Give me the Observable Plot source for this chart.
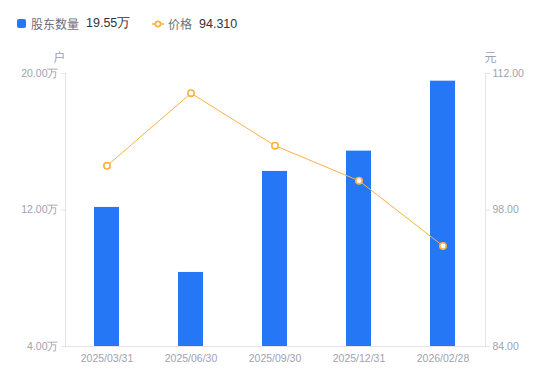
<!DOCTYPE html>
<html><head><meta charset="utf-8">
<script src="https://cdn.jsdelivr.net/npm/d3@7"></script>
<script src="https://cdn.jsdelivr.net/npm/@observablehq/plot@0.6"></script>
<style>
body{margin:0;background:#fff;font-family:"Noto Sans CJK SC","Liberation Sans",sans-serif;}
#legend{height:44px;position:relative;font-size:12px;}
.item{position:absolute;top:15px;display:flex;align-items:center;white-space:nowrap;}
.lab{color:#6b6f7b;margin-right:7px;}
.val{color:#333;font-family:"Liberation Sans",Arial,sans-serif;font-size:12.5px;}
svg{display:block;}
</style></head>
<body>
<div id="legend">
  <div class="item" style="left:17px"><span style="display:inline-block;width:9px;height:9px;background:#2677f6;border-radius:2px;margin-right:5px"></span><span class="lab">股东数量</span><span class="val" id="v1"></span></div>
  <div class="item" style="left:152px"><svg width="12" height="10" style="margin-right:4px"><line x1="0" y1="5" x2="12" y2="5" stroke="#f9b240" stroke-width="1.5"/><circle cx="6" cy="5" r="2.6" fill="#fff" stroke="#f9b240" stroke-width="1.6"/></svg><span class="lab">价格</span><span class="val" id="v2"></span></div>
</div>
<div id="chart"></div>
<script>
const dates = ["2025/03/31","2025/06/30","2025/09/30","2025/12/31","2026/02/28"];
const holders = [12.15, 8.34, 14.26, 15.45, 19.55]; // 万户
const prices = [102.53, 109.98, 104.6, 101.0, 94.31]; // 元
const leftTicks = [4, 12, 20];
const rightTicks = [84, 98, 112];

document.getElementById("v1").textContent = "19.55万";
document.getElementById("v2").textContent = "94.310";

// map right (price) domain onto left scale
const pToY = p => 4 + (p - 84) * 16 / 28;
const yToP = y => 84 + (y - 4) * 28 / 16;

const barData = dates.map((d,i)=>({d, v: holders[i]}));
const lineData = dates.map((d,i)=>({d, p: prices[i], y: pToY(prices[i])}));

const gray = "#9ea2b0";
const axisLine = "#e3e4ea";

const chart = Plot.plot({
  width: 550,
  height: 337,
  marginLeft: 65,
  marginRight: 65,
  marginTop: 29,
  marginBottom: 35,
  style: {fontFamily: "'Liberation Sans', Arial, sans-serif", fontSize: "10.5px", color: gray, background: "#fff"},
  x: {type: "band", domain: dates, paddingInner: 0.7, paddingOuter: 0.35},
  y: {domain: [4, 20]},
  marks: [
    Plot.frame({anchor: "left", stroke: axisLine}),
    Plot.frame({anchor: "right", stroke: axisLine}),
    Plot.barY(barData, {x: "d", y1: 4, y2: "v", fill: "#2677f6"}),
    Plot.line(lineData, {x: "d", y: "y", stroke: "#f9b240", strokeWidth: 1}),
    Plot.dot(lineData, {x: "d", y: "y", r: 3.2, fill: "#fff", stroke: "#f9b240", strokeWidth: 1.6}),
    Plot.ruleY([4], {stroke: axisLine}),
    Plot.axisY({anchor: "left", ticks: leftTicks, tickSize: 4, tickPadding: 3, tickFormat: d => d.toFixed(2) + "万", stroke: axisLine, color: gray, label: null}),
    Plot.axisY({anchor: "right", ticks: rightTicks.map(pToY), tickSize: 4, tickPadding: 3, tickFormat: d => yToP(d).toFixed(2), stroke: axisLine, color: gray, label: null}),
    Plot.axisX({anchor: "bottom", tickSize: 0, tickPadding: 8, color: gray, label: null}),
    Plot.text(["户"], {frameAnchor: "top-left", dx: -12, dy: -20, fill: gray, fontSize: 12, fontFamily: "Noto Sans CJK SC"}),
    Plot.text(["元"], {frameAnchor: "top-right", dx: 11, dy: -20, fill: gray, fontSize: 12, fontFamily: "Noto Sans CJK SC"})
  ]
});
document.getElementById("chart").appendChild(chart);
</script>
</body></html>
